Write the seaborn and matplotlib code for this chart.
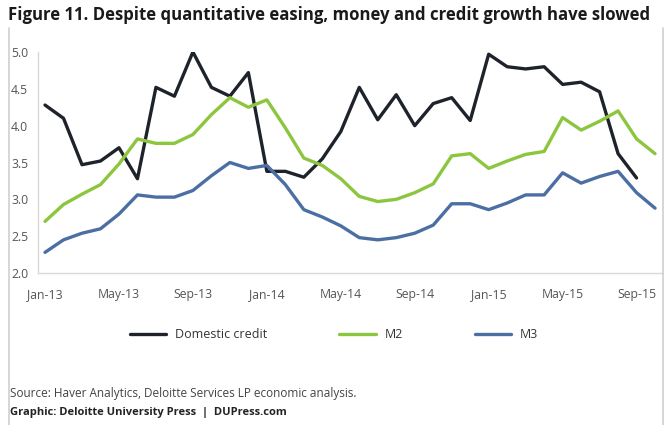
import numpy as np
import pandas as pd
import matplotlib
matplotlib.use("Agg")
import matplotlib.pyplot as plt
from matplotlib.lines import Line2D
import seaborn as sns

# Monthly growth rates (%), Jan-13 onward
domestic_credit = [4.28, 4.10, 3.47, 3.52, 3.70, 3.28, 4.52, 4.40, 5.00, 4.52, 4.40, 4.72,
                   3.38, 3.38, 3.30, 3.55, 3.92, 4.52, 4.08, 4.42, 4.00, 4.30, 4.38, 4.07,
                   4.97, 4.80, 4.77, 4.80, 4.56, 4.59, 4.46, 3.62, 3.29]
m2 = [2.70, 2.93, 3.07, 3.20, 3.48, 3.82, 3.76, 3.76, 3.88, 4.15, 4.38, 4.25,
      4.35, 3.97, 3.56, 3.46, 3.28, 3.04, 2.97, 3.00, 3.09, 3.21, 3.59, 3.62,
      3.42, 3.52, 3.61, 3.65, 4.11, 3.94, 4.06, 4.20, 3.82, 3.62]
m3 = [2.28, 2.45, 2.54, 2.60, 2.80, 3.06, 3.03, 3.03, 3.12, 3.32, 3.50, 3.42,
      3.46, 3.20, 2.86, 2.76, 2.64, 2.48, 2.45, 2.48, 2.54, 2.65, 2.94, 2.94,
      2.86, 2.95, 3.06, 3.06, 3.36, 3.22, 3.31, 3.38, 3.09, 2.88]

series_names = ["Domestic credit", "M2", "M3"]
tick_labels = ["Jan-13", "May-13", "Sep-13", "Jan-14", "May-14", "Sep-14", "Jan-15", "May-15", "Sep-15"]
y_ticks = [2.0, 2.5, 3.0, 3.5, 4.0, 4.5, 5.0]

frames = []
for name, vals in zip(series_names, [domestic_credit, m2, m3]):
    frames.append(pd.DataFrame({"month": np.arange(len(vals)), "value": vals, "series": name}))
df = pd.concat(frames, ignore_index=True)

colors = {"Domestic credit": "#1e232b", "M2": "#8cc63f", "M3": "#4c6fa3"}

sns.set_theme(style="white")
plt.rcParams["font.family"] = ["Open Sans", "DejaVu Sans"]

fig = plt.figure(figsize=(6.7, 4.25), dpi=100)
ax = fig.add_axes([38 / 670, 1 - 273 / 425, (663 - 38) / 670, (273 - 52) / 425])

sns.lineplot(data=df, x="month", y="value", hue="series", hue_order=series_names,
             palette=colors, linewidth=2.4, legend=False, ax=ax)

ax.set_xlim(-0.38, 33.43)
ax.set_ylim(2.0, 5.0)
ax.set_xticks(np.arange(0, 33, 4))
ax.set_xticklabels(tick_labels)
ax.set_yticks(y_ticks)
ax.set_yticklabels([f"{v:.1f}" for v in y_ticks])
ax.set_xlabel("")
ax.set_ylabel("")
ax.tick_params(axis="both", length=0, labelsize=8.8, colors="#555555")
ax.tick_params(axis="x", pad=11)
ax.tick_params(axis="y", pad=7)
for side in ["top", "right"]:
    ax.spines[side].set_visible(False)
for side in ["left", "bottom"]:
    ax.spines[side].set_color("#d9d9d9")
    ax.spines[side].set_linewidth(1.0)

# Outer frame lines
fig.add_artist(Line2D([9 / 670, 9 / 670], [0, 1 - 28 / 425], color="#cfcfcf", lw=1.2))
fig.add_artist(Line2D([663 / 670, 663 / 670], [0, 1 - 28 / 425], color="#cfcfcf", lw=1.2))

# Legend
handles = [Line2D([0], [0], color=colors[n], lw=2.4) for n in series_names]
fig.legend(handles, series_names, loc="center", bbox_to_anchor=(334 / 670, 1 - 335 / 425),
           ncol=3, frameon=False, fontsize=9, handlelength=2.9, columnspacing=5.75,
           handletextpad=0.7, labelcolor="#333333")

fig.text(8 / 670, 1 - 15 / 425,
         "Figure 11. Despite quantitative easing, money and credit growth have slowed",
         fontsize=12.1, fontweight="bold", color="#1a1a1a", va="center", ha="left")
fig.text(10 / 670, 1 - 393 / 425,
         "Source: Haver Analytics, Deloitte Services LP economic analysis.",
         fontsize=8.5, color="#444444", va="center", ha="left")
fig.text(10 / 670, 1 - 412 / 425,
         "Graphic: Deloitte University Press  |  DUPress.com",
         fontsize=8.0, fontweight="bold", color="#222222", va="center", ha="left")

fig.savefig("out.png", dpi=100, facecolor="white")
